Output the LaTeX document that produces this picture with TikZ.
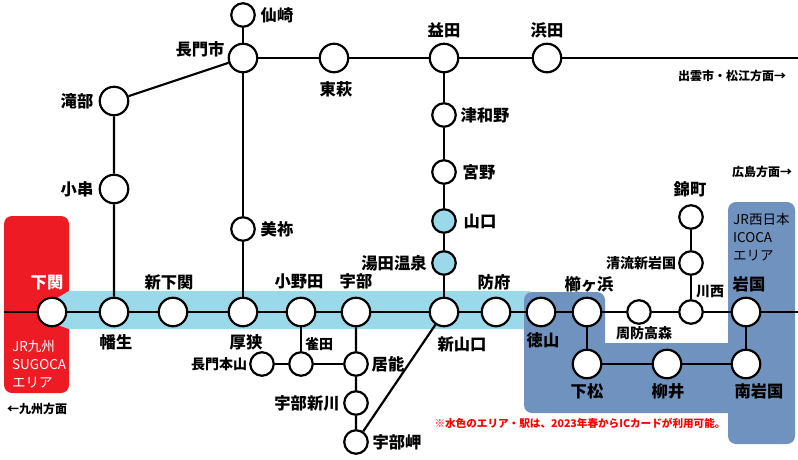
\documentclass[tikz,border=0pt]{standalone}
\usepackage{fontspec}
\setmainfont{Noto Sans CJK JP}
\usetikzlibrary{positioning}

\definecolor{sugocared}{HTML}{ED1C24}
\definecolor{icocablue}{HTML}{7092BE}
\definecolor{newblue}{HTML}{99D9EA}

\tikzset{
  stn/.style={circle,draw=black,line width=2.2pt,fill=white,minimum size=28.5pt,inner sep=0pt},
  smallstn/.style={stn,minimum size=23.5pt},
  rail/.style={line width=2.2pt},
  lbl/.style={font=\fontsize{16.3}{16.3}\selectfont\bfseries,inner sep=0pt},
  smalllbl/.style={font=\fontsize{14}{14}\selectfont\bfseries,inner sep=0pt},
  dirlbl/.style={font=\fontsize{12}{12}\selectfont\bfseries,inner sep=0pt},
  arealbl/.style={font=\fontsize{13.5}{18}\selectfont,inner sep=0pt,align=left,anchor=north west}
}

\begin{document}
\begin{tikzpicture}[on grid,node distance=50pt]

   \useasboundingbox (0pt,0pt) rectangle (798pt,-459pt);

   % areas
   \fill[sugocared,rounded corners=8pt] (4pt,-216pt) rectangle (69pt,-393pt);
   \fill[newblue] (52pt,-301pt) -- (69pt,-291pt) -- (530pt,-291pt) -- (530pt,-329pt) -- (69pt,-329pt) -- (52pt,-323pt) -- cycle;
   \fill[icocablue,rounded corners=8pt] (524pt,-350pt) -- (524pt,-292pt) -- (605pt,-292pt)
     [sharp corners] -- (605pt,-343pt) -- (728pt,-343pt)
     [rounded corners=8pt] -- (728pt,-202pt) -- (795pt,-202pt) -- (795pt,-444pt) -- (728pt,-444pt)
     [sharp corners] -- (728pt,-413pt)
     [rounded corners=8pt] -- (524pt,-413pt) -- (524pt,-350pt) -- cycle;

   % main line
   \node[stn] (shimonoseki) at (52pt,-312pt) {};
   \node[stn] (hatabu) [right=62pt of shimonoseki] {};
   \node[stn] (shinshimonoseki) [right=59pt of hatabu] {};
   \node[stn] (asa) [right=70pt of shinshimonoseki] {};
   \node[stn] (onoda) [right=58pt of asa] {};
   \node[stn] (ube) [right=55pt of onoda] {};
   \node[stn] (shinyamaguchi) [right=88pt of ube] {};
   \node[stn] (hofu) [right=52pt of shinyamaguchi] {};
   \node[stn] (tokuyama) [right=45pt of hofu] {};
   \node[stn] (kushigahama) [right=46pt of tokuyama] {};
   \node[smallstn] (suotakamori) [right=52pt of kushigahama] {};
   \node[smallstn] (kawanishi) [right=52pt of suotakamori] {};
   \node[stn] (iwakuni) [right=55pt of kawanishi] {};

   % gantoku line south
   \node[stn] (kudamatsu) [below=52pt of kushigahama] {};
   \node[stn] (yanai) [right=80pt of kudamatsu] {};
   \node[stn] (minamiiwakuni) [below=52pt of iwakuni] {};

   % gannichi
   \node[smallstn] (seiryu) [above=49pt of kawanishi] {};
   \node[smallstn] (nishikicho) [above=46pt of seiryu] {};

   % ube line
   \node[smallstn] (suzumeda) [below=52pt of onoda] {};
   \node[smallstn] (nagatomotoyama) [left=39pt of suzumeda] {};
   \node[smallstn] (ino) [below=52pt of ube] {};
   \node[smallstn] (ubeshinkawa) [below=39pt of ino] {};
   \node[smallstn] (ubemisaki) [below=39pt of ubeshinkawa] {};

   % yamaguchi line
   \node[smallstn,fill=newblue] (yuda) [above=49pt of shinyamaguchi] {};
   \node[smallstn,fill=newblue] (yamaguchi) [above=42pt of yuda] {};
   \node[smallstn] (miyano) [above=49pt of yamaguchi] {};
   \node[smallstn] (tsuwano) [above=57pt of miyano] {};
   \node[stn] (masuda) [above=57pt of tsuwano] {};
   \node[stn] (hamada) [right=103pt of masuda] {};

   % mine line, san-in line
   \node[smallstn] (mine) [above=83pt of asa] {};
   \node[stn] (nagato) [above=171pt of mine] {};
   \node[smallstn] (senzaki) [above=43pt of nagato] {};
   \node[stn] (higashihagi) [right=91pt of nagato] {};
   \node[stn] (ogushi) [above=123pt of hatabu] {};
   \node[stn] (takibe) [above=88pt of ogushi] {};

   \coordinate (west_end) at (4pt,-312pt);
   \coordinate (east_end) at (798pt,-312pt);
   \coordinate (north_end) at (798pt,-58pt);

   \draw[rail] (west_end) -- (shimonoseki) -- (hatabu) -- (shinshimonoseki) -- (asa) -- (onoda) -- (ube)
     -- (shinyamaguchi) -- (hofu) -- (tokuyama) -- (kushigahama) -- (suotakamori) -- (kawanishi) -- (iwakuni) -- (east_end);
   \draw[rail] (kushigahama) -- (kudamatsu) -- (yanai) -- (minamiiwakuni) -- (iwakuni);
   \draw[rail] (kawanishi) -- (seiryu) -- (nishikicho);
   \draw[rail] (onoda) -- (suzumeda);
   \draw[rail] (nagatomotoyama) -- (suzumeda) -- (ino);
   \draw[rail] (ube) -- (ino) -- (ubeshinkawa) -- (ubemisaki) -- (shinyamaguchi);
   \draw[rail] (shinyamaguchi) -- (yuda) -- (yamaguchi) -- (miyano) -- (tsuwano) -- (masuda);
   \draw[rail] (asa) -- (mine) -- (nagato) -- (senzaki);
   \draw[rail] (hatabu) -- (ogushi) -- (takibe) -- (nagato);
   \draw[rail] (nagato) -- (higashihagi) -- (masuda) -- (hamada) -- (north_end);

   % station names
   \node[lbl,white] (l_shimonoseki) [above left=29pt and 5pt of shimonoseki] {下関};
   \node[lbl] (l_hatabu) [below right=30pt and 2pt of hatabu] {幡生};
   \node[lbl] (l_shinshimonoseki) [above left=30pt and 4pt of shinshimonoseki] {新下関};
   \node[lbl] (l_asa) [below right=30pt and 3pt of asa] {厚狭};
   \node[lbl] (l_onoda) [above left=31pt and 2pt of onoda] {小野田};
   \node[lbl] (l_ube) [above=31pt of ube] {宇部};
   \node[lbl] (l_shinyamaguchi) [below right=32pt and 18pt of shinyamaguchi] {新山口};
   \node[lbl] (l_hofu) [above left=30pt and 2pt of hofu] {防府};
   \node[lbl] (l_tokuyama) [below right=28pt and 2pt of tokuyama] {徳山};
   \node[lbl] (l_kushigahama) [above right=28pt and 2pt of kushigahama] {櫛ヶ浜};
   \node[smalllbl] (l_suotakamori) [below right=21pt and 5pt of suotakamori] {周防高森};
   \node[smalllbl] (l_kawanishi) [above right=20pt and 19pt of kawanishi] {川西};
   \node[lbl] (l_iwakuni) [above right=28pt and 3pt of iwakuni] {岩国};
   \node[lbl] (l_kudamatsu) [below=27pt of kudamatsu] {下松};
   \node[lbl] (l_yanai) [below right=27pt and 1pt of yanai] {柳井};
   \node[lbl] (l_minamiiwakuni) [below right=27pt and 13pt of minamiiwakuni] {南岩国};
   \node[smalllbl] (l_seiryu) [left=50pt of seiryu] {清流新岩国};
   \node[lbl] (l_nishikicho) [above left=28pt and 1pt of nishikicho] {錦町};
   \node[smalllbl] (l_suzumeda) [above right=20pt and 18pt of suzumeda] {雀田};
   \node[smalllbl] (l_nagatomotoyama) [left=43pt of nagatomotoyama] {長門本山};
   \node[lbl] (l_ino) [right=32pt of ino] {居能};
   \node[lbl] (l_ubeshinkawa) [left=49pt of ubeshinkawa] {宇部新川};
   \node[lbl] (l_ubemisaki) [right=41pt of ubemisaki] {宇部岬};
   \node[lbl] (l_yuda) [left=50pt of yuda] {湯田温泉};
   \node[lbl] (l_yamaguchi) [right=36pt of yamaguchi] {山口};
   \node[lbl] (l_miyano) [right=35pt of miyano] {宮野};
   \node[lbl] (l_tsuwano) [right=41pt of tsuwano] {津和野};
   \node[lbl] (l_masuda) [above=28pt of masuda] {益田};
   \node[lbl] (l_hamada) [above=28pt of hamada] {浜田};
   \node[lbl] (l_mine) [right=34pt of mine] {美祢};
   \node[lbl] (l_nagato) [above left=9pt and 43pt of nagato] {長門市};
   \node[lbl] (l_senzaki) [right=34pt of senzaki] {仙崎};
   \node[lbl] (l_higashihagi) [below right=31pt and 2pt of higashihagi] {東萩};
   \node[lbl] (l_ogushi) [left=37pt of ogushi] {小串};
   \node[lbl] (l_takibe) [left=37pt of takibe] {滝部};

   % directions and notes
   \node[dirlbl] (d_izumo) at (732pt,-76pt) {出雲市・松江方面→};
   \node[dirlbl] (d_hiroshima) at (762pt,-172pt) {広島方面→};
   \node[dirlbl] (d_kyushu) at (37pt,-409pt) {←九州方面};
   \node[arealbl,white] (a_sugoca) at (12pt,-340pt) {JR九州\\SUGOCA\\エリア};
   \node[arealbl] (a_icoca) at (733pt,-213pt) {JR西日本\\ICOCA\\エリア};
   \node[font=\fontsize{10.6}{10.6}\selectfont\bfseries,red,inner sep=0pt] (note) at (580pt,-423pt) {※水色のエリア・駅は、2023年春からICカードが利用可能。};

\end{tikzpicture}
\end{document}
